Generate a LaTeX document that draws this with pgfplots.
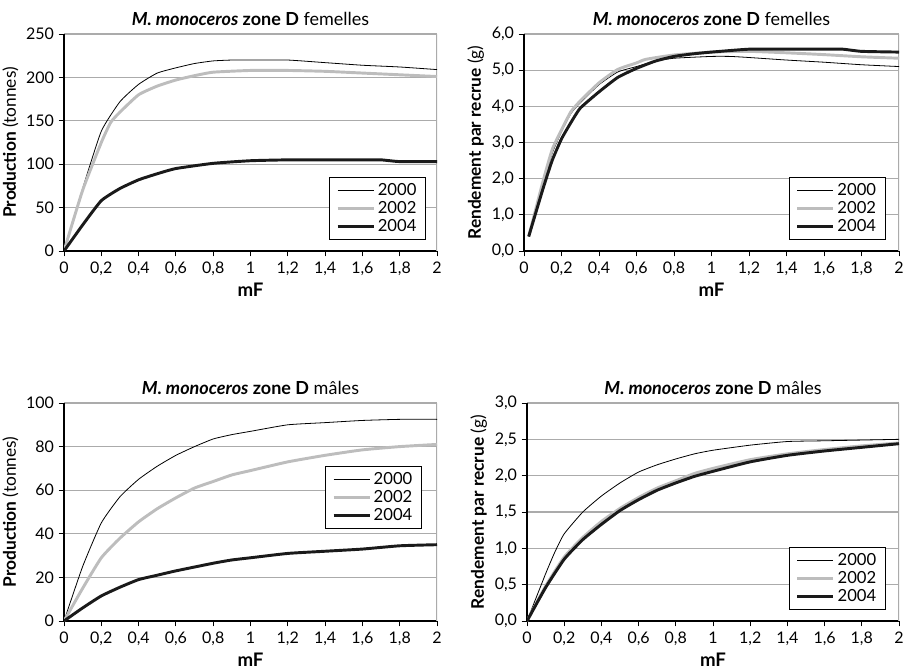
\documentclass[border=0pt]{standalone}
\usepackage{fontspec}
\setmainfont{Lato}
\usepackage{pgfplots}
\pgfplotsset{compat=1.18}
\definecolor{gridc}{HTML}{ABABAB}
\definecolor{c02}{HTML}{BDBDBD}
\definecolor{c04}{HTML}{1A1A1A}
\pgfplotsset{
  base/.style={
    scale only axis,
    xmin=0, xmax=2,
    xtick={0,0.2,0.4,0.6,0.8,1,1.2,1.4,1.6,1.8,2},
    axis x line*=bottom, axis y line*=left,
    axis line style={black, line width=0.8pt, -},
    ymajorgrids, grid style={draw=gridc, line width=0.8pt},
    tick align=outside, major tick length=4pt,
    tick style={black, line width=0.7pt},
    /pgf/number format/use comma,
    /pgf/number format/assume math mode=true,
    tick label style={font=\fontsize{12}{14}\selectfont},
    xticklabel style={yshift=-1pt},
    label style={font=\fontsize{13}{15}\selectfont},
    title style={font=\fontsize{13.5}{15}\selectfont, yshift=-3pt},
    xlabel={\textbf{\fontsize{14}{15}\selectfont mF}},
    xlabel style={yshift=2pt},
    ylabel style={yshift=-1pt},
    legend style={draw=black, line width=0.6pt, font=\fontsize{12.5}{14}\selectfont,
      inner xsep=5pt, inner ysep=2.5pt, row sep=-1pt},
    legend cell align=right,
    legend image code/.code={\draw[##1] (0cm,0cm) -- (0.95cm,0cm);},
    every axis plot/.append style={line join=round},
  },
  s00/.style={black, line width=0.6pt},
  s02/.style={c02, line width=2.2pt},
  s04/.style={c04, line width=2.2pt},
}
\begin{document}
\begin{tikzpicture}
\useasboundingbox (0,0) rectangle (678.75pt,503.25pt);
% ---------- top left
\begin{axis}[base, at={(48pt,315pt)}, width=279.75pt, height=162.75pt,
  ymin=0, ymax=250, ytick={0,50,100,150,200,250},
  title={\textbf{\textit{M. monoceros} zone D} femelles},
  ylabel={\textbf{Production} (tonnes)},
  legend style={at={(0.971,0.051)}, anchor=south east}]
\draw[gridc, line width=0.8pt] (rel axis cs:1,0) -- (rel axis cs:1,1);
\addplot[s00, smooth, tension=0.3] coordinates {(0,0) (0.1,72) (0.2,138) (0.3,172) (0.4,192) (0.5,205) (0.6,211) (0.7,216) (0.8,219) (0.9,220) (1.0,220) (1.2,220) (1.4,217) (1.6,214) (1.8,212) (2.0,209)};
\addplot[s02, smooth, tension=0.3] coordinates {(0,0) (0.1,70) (0.2,125) (0.25,148) (0.3,160) (0.4,180) (0.5,190) (0.6,197) (0.7,202) (0.8,206) (1.0,208) (1.2,208) (1.4,207) (1.6,205) (1.8,203) (2.0,201)};
\addplot[s04, smooth, tension=0.3] coordinates {(0,0) (0.1,30) (0.2,58) (0.3,72) (0.4,82) (0.5,89) (0.6,95) (0.8,101) (1.0,104) (1.2,105) (1.4,105) (1.6,105) (1.7,105) (1.8,103) (2.0,103)};
\legend{2000,2002,2004}
\end{axis}
% ---------- top right
\begin{axis}[base, at={(393pt,315pt)}, width=281.25pt, height=162.75pt,
  ymin=0, ymax=6, ytick={0,1,2,3,4,5,6},
  yticklabel style={/pgf/number format/.cd, fixed, fixed zerofill, precision=1},
  title={\textbf{\textit{M. monoceros} zone D} femelles},
  ylabel={\textbf{Rendement par recrue} (g)},
  legend style={at={(0.965,0.051)}, anchor=south east}]
\draw[gridc, line width=0.8pt] (rel axis cs:1,0) -- (rel axis cs:1,1);
\addplot[s00, smooth, tension=0.3] coordinates {(0.025,0.4) (0.1,1.85) (0.15,2.7) (0.2,3.3) (0.25,3.8) (0.3,4.1) (0.4,4.6) (0.5,4.95) (0.6,5.1) (0.7,5.25) (0.8,5.33) (1.0,5.38) (1.1,5.38) (1.2,5.35) (1.4,5.28) (1.6,5.22) (1.8,5.15) (2.0,5.1)};
\addplot[s02, smooth, tension=0.3] coordinates {(0.025,0.4) (0.1,1.9) (0.15,2.8) (0.2,3.35) (0.25,3.85) (0.3,4.15) (0.4,4.65) (0.5,5.02) (0.6,5.2) (0.65,5.3) (0.8,5.42) (1.0,5.5) (1.2,5.52) (1.4,5.48) (1.6,5.43) (1.8,5.37) (2.0,5.33)};
\addplot[s04, smooth, tension=0.3] coordinates {(0.025,0.4) (0.1,1.7) (0.15,2.5) (0.2,3.1) (0.25,3.55) (0.3,3.95) (0.4,4.4) (0.5,4.8) (0.6,5.05) (0.7,5.25) (0.8,5.38) (0.9,5.45) (1.0,5.5) (1.2,5.58) (1.4,5.58) (1.6,5.58) (1.7,5.58) (1.8,5.52) (2.0,5.5)};
\legend{2000,2002,2004}
\end{axis}
% ---------- bottom left
\begin{axis}[base, at={(48pt,37.5pt)}, width=279.75pt, height=163.5pt,
  ymin=0, ymax=100, ytick={0,20,40,60,80,100},
  title={\textbf{\textit{M. monoceros} zone D} mâles},
  ylabel={\textbf{Production} (tonnes)},
  legend style={at={(0.960,0.422)}, anchor=south east}]
\draw[gridc, line width=0.8pt] (rel axis cs:1,0) -- (rel axis cs:1,1);
\addplot[s00, smooth, tension=0.3] coordinates {(0,0) (0.1,25) (0.2,45) (0.3,57) (0.4,65) (0.5,71) (0.6,76) (0.7,80) (0.8,83.5) (0.9,85.5) (1.0,87) (1.2,90) (1.4,91) (1.6,92) (1.8,92.5) (2.0,92.5)};
\addplot[s02, smooth, tension=0.3] coordinates {(0,0) (0.1,15) (0.2,29) (0.3,38) (0.4,45.5) (0.5,51.5) (0.6,56.5) (0.7,61) (0.8,64) (0.9,67) (1.0,69) (1.2,73) (1.4,76) (1.6,78.5) (1.8,80) (2.0,81)};
\addplot[s04, smooth, tension=0.3] coordinates {(0,0) (0.1,6) (0.2,11.5) (0.3,15.5) (0.4,19) (0.5,21) (0.6,23) (0.8,26.5) (0.9,28) (1.0,29) (1.2,31) (1.4,32) (1.6,33) (1.8,34.5) (2.0,35)};
\legend{2000,2002,2004}
\end{axis}
% ---------- bottom right
\begin{axis}[base, at={(395.25pt,37.5pt)}, width=279pt, height=163.5pt,
  ymin=0, ymax=3, ytick={0,0.5,1,1.5,2,2.5,3},
  yticklabel style={/pgf/number format/.cd, fixed, fixed zerofill, precision=1},
  title={\textbf{\textit{M. monoceros} zone D} mâles},
  ylabel={\textbf{Rendement par recrue} (g)},
  legend style={at={(0.965,0.05)}, anchor=south east}]
\draw[gridc, line width=0.8pt] (rel axis cs:1,0) -- (rel axis cs:1,1);
\addplot[s00, smooth, tension=0.3] coordinates {(0,0) (0.1,0.65) (0.15,0.95) (0.2,1.2) (0.3,1.5) (0.4,1.72) (0.5,1.9) (0.6,2.05) (0.7,2.15) (0.8,2.23) (0.9,2.3) (1.0,2.35) (1.2,2.42) (1.4,2.47) (1.6,2.48) (1.8,2.49) (2.0,2.5)};
\addplot[s02, smooth, tension=0.3] coordinates {(0,0) (0.1,0.48) (0.2,0.88) (0.3,1.15) (0.4,1.37) (0.5,1.55) (0.6,1.7) (0.7,1.83) (0.8,1.93) (0.9,2.03) (1.0,2.1) (1.2,2.22) (1.4,2.3) (1.6,2.36) (1.8,2.41) (2.0,2.45)};
\addplot[s04, smooth, tension=0.3] coordinates {(0,0) (0.1,0.46) (0.2,0.85) (0.3,1.12) (0.4,1.33) (0.5,1.52) (0.6,1.67) (0.7,1.8) (0.8,1.9) (0.9,1.99) (1.0,2.06) (1.2,2.19) (1.4,2.28) (1.6,2.34) (1.8,2.39) (2.0,2.44)};
\legend{2000,2002,2004}
\end{axis}
\end{tikzpicture}
\end{document}
